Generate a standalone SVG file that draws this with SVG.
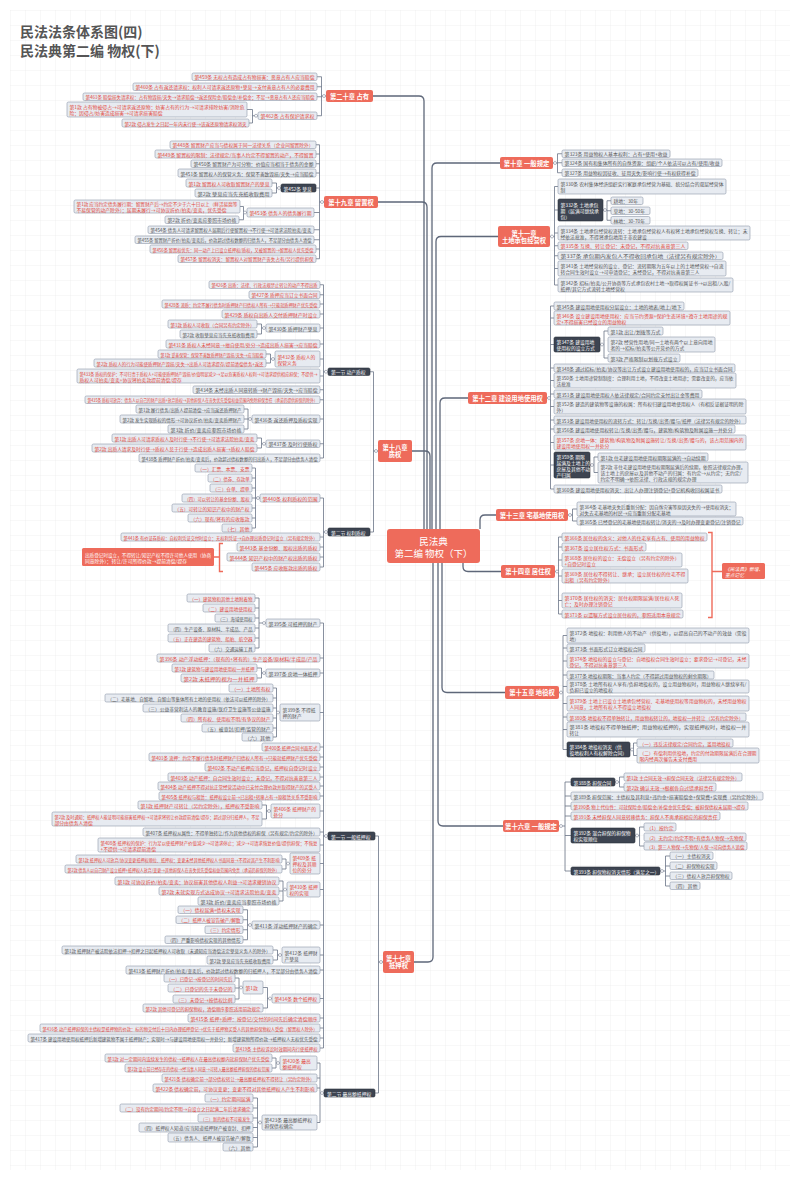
<svg xmlns="http://www.w3.org/2000/svg" width="800" height="1179" viewBox="0 0 800 1179">
<defs>
<pattern id="grid" width="15" height="15" patternUnits="userSpaceOnUse" x="10" y="10"><path d="M15 0H0V15" fill="none" stroke="#E6E6E6" stroke-width="0.6"/></pattern>
<style>
text{font-family:"Noto Sans CJK SC","Noto Sans",sans-serif;font-size:4.8px;dominant-baseline:central}
.g rect,.r rect{fill:#E7EBF1;stroke:#8D97AA;stroke-width:0.6}
.g text{fill:#555}
.r text{fill:#E2473B}
.d rect{fill:#3D4451;stroke:#2E343E;stroke-width:0.6}
.d text{fill:#fff}
.c rect{fill:#EE6B5B}
.c text{fill:#fff;font-size:6.3px;font-weight:bold;text-anchor:middle}
.root text{font-size:9.5px;font-weight:normal}
.nt rect{fill:#EE6B5B}
.nt text{fill:#fff;font-style:italic}
.tt{font-size:14px;fill:#555;dominant-baseline:alphabetic;font-weight:bold}
.k{fill:none;stroke:#6A7386;stroke-width:0.8}
.m{fill:none;stroke:#5E6779;stroke-width:1.3}
.h{fill:#fff;stroke:#6A7386;stroke-width:0.5}
.br{fill:none;stroke:#EE6B5B;stroke-width:1.4}
</style>
</defs>
<rect width="800" height="1179" fill="#fff"/>
<rect x="10" y="10" width="780" height="1160" fill="url(#grid)"/>
<g id="title"><text class="tt" x="20" y="37">民法法条体系图(四)</text><text class="tt" x="20" y="56">民法典第二编 物权(下)</text></g>

<g id="connectors">
<path class="m" d="M432,529V168Q432,163 437,163H500"/>
<path class="m" d="M436,529V241.5Q436,236.5 441,236.5H498"/>
<path class="m" d="M440,529V403Q440,398 445,398H468"/>
<path class="m" d="M480,529V520Q480,515 485,515H496"/>
<path class="m" d="M463,563V566.5Q463,571.5 468,571.5H501"/>
<path class="m" d="M442,563V687.5Q442,692.5 447,692.5H505"/>
<path class="m" d="M438,563V821Q438,826 443,826H503"/>
<path class="m" d="M433,563V957Q433,962 428,962H414"/>
<path class="m" d="M424,529V101Q424,96 419,96H373"/>
<path class="m" d="M427,529V207Q427,202 422,202H378"/>
<path class="m" d="M430,529V456Q430,451 425,451H412"/>
<path class="k" d="M553,163H557.5M557.5,153.75V172.75M557.5,153.75H562M557.5,162.75H562M557.5,172.75H562"/>
<path class="k" d="M550,236.5H554.5M554.5,186.5V285M554.5,186.5H558M554.5,210H558M554.5,233H558M554.5,245.75H558M554.5,255.75H558M554.5,268.5H558M554.5,285H558"/>
<path class="k" d="M603,210H607M607,200.75V220.25M607,200.75H611M607,210.75H611M607,220.25H611"/>
<path class="k" d="M547,398H550.5M550.5,306V489M550.5,306H554M550.5,318H554M550.5,344.5H554M550.5,368H554M550.5,380.5H554M550.5,394H554M550.5,406.5H554M550.5,420H554M550.5,429H554M550.5,442.5H554M550.5,465H554M550.5,489H554"/>
<path class="k" d="M600,344.5H604M604,331V358M604,331H608M604,358H608"/>
<path class="k" d="M590,465H594M594,457V472.5M594,457H598M594,472.5H598"/>
<path class="k" d="M568,515H572.5M572.5,509V521M572.5,509H577M572.5,521H577"/>
<path class="k" d="M555,571.5H558.5M558.5,537V614M558.5,537H562M558.5,547H562M558.5,560H562M558.5,576H562M558.5,600.5H562M558.5,614H562"/>
<path class="k" d="M559,692.5H563M563,635.5V749.5M563,635.5H567M563,648H567M563,661H567M563,675H567M563,686.5H567M563,703.5H567M563,717H567M563,729.5H567M563,749.5H567"/>
<path class="k" d="M630,749.5H633.5M633.5,743V755.5M633.5,743H637M633.5,755.5H637"/>
<path class="k" d="M559,826H565M565,782V871M565,782H571M565,796H571M565,806H571M565,816H571M565,835.5H571M565,871H571"/>
<path class="k" d="M615,782H619.5M619.5,777V787M619.5,777H624M619.5,787H624"/>
<path class="k" d="M635,835.5H639.5M639.5,827V846M639.5,827H644M639.5,846H644"/>
<path class="k" d="M660,871H665.5M665.5,856V886M665.5,856H670M665.5,866H670M665.5,876H670M665.5,886H670"/>
<path class="br" d="M708,532.5H712V617.5H708M712,571.5H722"/>
<path class="k" d="M326,96H321.5M321.5,76.75V115.75M321.5,76.75H317M321.5,86.75H317M321.5,96.75H317M321.5,115.75H317"/>
<path class="k" d="M258,115.75H252.5M252.5,109.5V123M252.5,109.5H247M252.5,123H249"/>
<path class="k" d="M324,202H319.5M319.5,144.75V258.75M319.5,144.75H316M319.5,154H316M319.5,163.75H316M319.5,173H316M319.5,188H316M319.5,212.5H314M319.5,229.75H314M319.5,239.75H314M319.5,249H316M319.5,258.75H316"/>
<path class="k" d="M281,188H276.5M276.5,183V193M276.5,183H272M276.5,193H272"/>
<path class="k" d="M247,212.5H243.5M243.5,206.5V219.75M243.5,206.5H240M243.5,219.75H239"/>
<path class="k" d="M378,451H373.5M373.5,371.75V532M373.5,371.75H370M373.5,532H370"/>
<path class="k" d="M328,371.75H323.5M323.5,284.75V458M323.5,284.75H320M323.5,294.75H320M323.5,304H320M323.5,314H320M323.5,328H320M323.5,344H320M323.5,359H320M323.5,376H320M323.5,389.75H320M323.5,399.75H320M323.5,419H320M323.5,443.75H320M323.5,458H320"/>
<path class="k" d="M266,328H261.5M261.5,324V334M261.5,324H257M261.5,334H257"/>
<path class="k" d="M275,359H270.5M270.5,354V363M270.5,354H266M270.5,363H266"/>
<path class="k" d="M252,419H248M248,409V429M248,409H244M248,419H244M248,429H244"/>
<path class="k" d="M266,443.75H261.5M261.5,438V448M261.5,438H257M261.5,448H257"/>
<path class="k" d="M328,532H323.5M323.5,498V567M323.5,498H320M323.5,537H320M323.5,547H320M323.5,557H320M323.5,567H320"/>
<path class="k" d="M260,498H255.5M255.5,468V528M255.5,468H252M255.5,478H252M255.5,488H252M255.5,498H252M255.5,508H252M255.5,518H252M255.5,528H252"/>
<path class="br" d="M223,543.5H219.5V571.5H223M219.5,557H214"/>
<path class="k" d="M383,962H378.5M378.5,836V1093M378.5,836H375M378.5,1093H375"/>
<path class="k" d="M328,836H323.5M323.5,623V1048M323.5,623H320M323.5,658H320M323.5,673H320M323.5,712.5H320M323.5,747H320M323.5,757H320M323.5,767H320M323.5,777H320M323.5,786H320M323.5,796H320M323.5,811H320M323.5,832H320M323.5,845H320M323.5,863.5H320M323.5,889.5H320M323.5,925H320M323.5,955H320M323.5,970H320M323.5,998.5H320M323.5,1018H320M323.5,1028H320M323.5,1038H320M323.5,1048H320"/>
<path class="k" d="M266,623H259M259,598V648M259,598H255M259,608H255M259,618H255M259,628H255M259,638H255M259,648H255"/>
<path class="k" d="M266,673H261.5M261.5,668V678M261.5,668H257M261.5,678H257"/>
<path class="k" d="M280,712.5H276.5M276.5,688V737M276.5,688H273M276.5,698H273M276.5,708H273M276.5,718H273M276.5,728H273M276.5,737H273"/>
<path class="k" d="M271,811H266.5M266.5,805V819M266.5,805H262M266.5,819H262"/>
<path class="k" d="M290,863.5H286M286,859V869M286,859H282M286,869H282"/>
<path class="k" d="M287,889.5H283M283,881V901M283,881H279M283,891H279M283,901H279"/>
<path class="k" d="M252,925H247.5M247.5,909.75V939.75M247.5,909.75H243M247.5,919.75H243M247.5,929.75H243M247.5,939.75H243"/>
<path class="k" d="M282,955H277.5M277.5,950V960M277.5,950H273M277.5,960H273"/>
<path class="k" d="M272,998.5H267.5M267.5,987.5V1008M267.5,987.5H263M267.5,1008H263"/>
<path class="k" d="M243,987.5H239M239,978V999M239,978H235M239,988H235M239,999H235"/>
<path class="k" d="M324,1093H320M320,1063V1122.5M320,1063H317M320,1078H317M320,1088H317M320,1122.5H317"/>
<path class="k" d="M280,1063H276M276,1058V1068M276,1058H272M276,1068H272"/>
<path class="k" d="M262,1122.5H257.5M257.5,1098V1147M257.5,1098H253M257.5,1108H253M257.5,1118H253M257.5,1127.5H253M257.5,1137.5H253M257.5,1147H253"/>
<circle class="h" cx="555" cy="163" r="1.5"/><circle class="h" cx="552" cy="236.5" r="1.5"/><circle class="h" cx="605" cy="210" r="1.5"/><circle class="h" cx="549" cy="398" r="1.5"/><circle class="h" cx="602" cy="344.5" r="1.5"/><circle class="h" cx="592" cy="465" r="1.5"/><circle class="h" cx="570" cy="515" r="1.5"/><circle class="h" cx="557" cy="571.5" r="1.5"/><circle class="h" cx="561" cy="692.5" r="1.5"/><circle class="h" cx="632" cy="749.5" r="1.5"/><circle class="h" cx="561" cy="826" r="1.5"/><circle class="h" cx="617" cy="782" r="1.5"/><circle class="h" cx="637" cy="835.5" r="1.5"/><circle class="h" cx="662" cy="871" r="1.5"/>
<circle class="h" cx="324" cy="96" r="1.5"/><circle class="h" cx="256" cy="115.75" r="1.5"/><circle class="h" cx="322" cy="202" r="1.5"/><circle class="h" cx="279" cy="188" r="1.5"/><circle class="h" cx="245" cy="212.5" r="1.5"/><circle class="h" cx="376" cy="451" r="1.5"/><circle class="h" cx="326" cy="371.75" r="1.5"/><circle class="h" cx="264" cy="328" r="1.5"/><circle class="h" cx="273" cy="359" r="1.5"/><circle class="h" cx="250" cy="419" r="1.5"/><circle class="h" cx="264" cy="443.75" r="1.5"/><circle class="h" cx="326" cy="532" r="1.5"/><circle class="h" cx="258" cy="498" r="1.5"/><circle class="h" cx="381" cy="962" r="1.5"/><circle class="h" cx="326" cy="836" r="1.5"/><circle class="h" cx="264" cy="623" r="1.5"/><circle class="h" cx="264" cy="673" r="1.5"/><circle class="h" cx="278" cy="712.5" r="1.5"/><circle class="h" cx="269" cy="811" r="1.5"/><circle class="h" cx="288" cy="863.5" r="1.5"/><circle class="h" cx="285" cy="889.5" r="1.5"/><circle class="h" cx="250" cy="925" r="1.5"/><circle class="h" cx="280" cy="955" r="1.5"/><circle class="h" cx="270" cy="998.5" r="1.5"/><circle class="h" cx="241" cy="987.5" r="1.5"/><circle class="h" cx="322" cy="1093" r="1.5"/><circle class="h" cx="278" cy="1063" r="1.5"/><circle class="h" cx="260" cy="1122.5" r="1.5"/>
</g>

<g id="root" class="c root"><rect x="387" y="529" width="93" height="34" rx="3"/><text x="433.5" y="540.5">民法典</text><text x="433.5" y="553">第二编 物权（下）</text></g>

<g id="ch10" class="c"><rect x="500" y="157" width="53" height="12" rx="2"/><text x="526.5" y="163">第十章 一般规定</text></g>
<g id="ch11" class="c"><rect x="498" y="226" width="52" height="21" rx="2"/><text x="524" y="233">第十一章</text><text x="524" y="240">土地承包经营权</text></g>
<g id="ch12" class="c"><rect x="468" y="392" width="79" height="12" rx="2"/><text x="507.5" y="398">第十二章 建设用地使用权</text></g>
<g id="ch13" class="c"><rect x="496" y="509" width="72" height="12" rx="2"/><text x="532" y="515">第十三章 宅基地使用权</text></g>
<g id="ch14" class="c"><rect x="501" y="565" width="54" height="13" rx="2"/><text x="528" y="571.5">第十四章 居住权</text></g>
<g id="ch15" class="c"><rect x="505" y="686" width="54" height="13" rx="2"/><text x="532" y="692.5">第十五章 地役权</text></g>
<g id="ch16" class="c"><rect x="503" y="820" width="56" height="12" rx="2"/><text x="531" y="826">第十六章 一般规定</text></g>
<g id="ch20" class="c"><rect x="326" y="90" width="47" height="12" rx="2"/><text x="349.5" y="96">第二十章 占有</text></g>
<g id="ch19" class="c"><rect x="324" y="196" width="54" height="12" rx="2"/><text x="351" y="202">第十九章 留置权</text></g>
<g id="ch18" class="c"><rect x="378" y="440" width="34" height="22" rx="2"/><text x="395" y="447.5">第十八章</text><text x="395" y="454.5">质权</text></g>
<g id="ch17" class="c"><rect x="383" y="951" width="31" height="22" rx="2"/><text x="398.5" y="958.5">第十七章</text><text x="398.5" y="965.5">抵押权</text></g>

<g id="n323" class="g"><rect x="562" y="150" width="108" height="7.5" rx="1.5"/><text x="564.5" y="153.75" textLength="103" lengthAdjust="spacingAndGlyphs">第323条 用益物权人基本权利：占有+使用+收益</text></g>
<g id="n324" class="g"><rect x="562" y="159" width="160" height="7.5" rx="1.5"/><text x="564.5" y="162.75" textLength="155" lengthAdjust="spacingAndGlyphs">第324条 国有和集体所有的自然资源：组织/个人依法可以占有/使用/收益</text></g>
<g id="n327" class="g"><rect x="562" y="169" width="136" height="7.5" rx="1.5"/><text x="564.5" y="172.75" textLength="131" lengthAdjust="spacingAndGlyphs">第327条 用益物权因征收、征用灭失/影响行使→有权获得补偿</text></g>
<g id="n330" class="g"><rect x="558" y="179" width="168" height="15" rx="1.5"/><text x="560.5" y="183.5" textLength="163" lengthAdjust="spacingAndGlyphs">第330条 农村集体经济组织实行家庭承包经营为基础、统分结合的双层经营体</text><text x="560.5" y="189.5">制</text></g>
<g id="n332" class="d"><rect x="558" y="199" width="45" height="22" rx="1.5"/><text x="560.5" y="204">第332条 土地承包</text><text x="560.5" y="210">期（届满可继续承</text><text x="560.5" y="216">包）</text></g>
<g id="n332a" class="g"><rect x="611" y="197" width="32" height="7.5" rx="1.5"/><text x="613.5" y="200.75">耕地：30年</text></g>
<g id="n332b" class="g"><rect x="611" y="207" width="39" height="7.5" rx="1.5"/><text x="613.5" y="210.75">草地：30-50年</text></g>
<g id="n332c" class="g"><rect x="611" y="216.5" width="39" height="7.5" rx="1.5"/><text x="613.5" y="220.25">林地：30-70年</text></g>
<g id="n334" class="g"><rect x="558" y="226" width="192" height="14" rx="1.5"/><text x="560.5" y="230" textLength="187" lengthAdjust="spacingAndGlyphs">第334条 土地承包经营权流转：土地承包经营权人有权将土地承包经营权互换、转让；未</text><text x="560.5" y="236">经依法批准，不得将承包地用于非农建设</text></g>
<g id="n335" class="r"><rect x="558" y="242" width="130" height="7.5" rx="1.5"/><text x="560.5" y="245.75" textLength="125" lengthAdjust="spacingAndGlyphs">第335条 互换、转让登记：未登记，不得对抗善意第三人</text></g>
<g id="n337" class="g"><rect x="558" y="252" width="165" height="7.5" rx="1.5"/><text x="560.5" y="255.75" textLength="160" lengthAdjust="spacingAndGlyphs">第337条 承包期内发包人不得收回承包地（法律另有规定除外）</text></g>
<g id="n341" class="g"><rect x="558" y="261" width="168" height="15" rx="1.5"/><text x="560.5" y="265.5" textLength="163" lengthAdjust="spacingAndGlyphs">第341条 土地经营权的设立、登记：流转期限为五年以上的土地经营权→自流</text><text x="560.5" y="271.5">转合同生效时设立→可申请登记；未经登记，不得对抗善意第三人</text></g>
<g id="n342" class="g"><rect x="558" y="278" width="175" height="14" rx="1.5"/><text x="560.5" y="282" textLength="170" lengthAdjust="spacingAndGlyphs">第342条 招标/拍卖/公开协商等方式承包农村土地→取得权属证书→以出租/入股/</text><text x="560.5" y="288">抵押/其它方式流转土地经营权</text></g>

<g id="n345" class="g"><rect x="554" y="302" width="130" height="8" rx="1.5"/><text x="556.5" y="306" textLength="125" lengthAdjust="spacingAndGlyphs">第345条 建设用地使用权分层设立：土地的地表/地上/地下</text></g>
<g id="n346" class="r"><rect x="554" y="311" width="176" height="14" rx="1.5"/><text x="556.5" y="315" textLength="171" lengthAdjust="spacingAndGlyphs">第346条 设立建设用地使用权：应当节约资源+保护生态环境+遵守土地用途的规</text><text x="556.5" y="321">定+不得损害已经设立的用益物权</text></g>
<g id="n347" class="d"><rect x="554" y="337" width="46" height="15" rx="1.5"/><text x="556.5" y="341.5">第347条 建设用地</text><text x="556.5" y="347.5">使用权的设立方式</text></g>
<g id="n347a" class="g"><rect x="608" y="327" width="55" height="8" rx="1.5"/><text x="610.5" y="331" textLength="50" lengthAdjust="spacingAndGlyphs">第1款 出让/划拨等方式</text></g>
<g id="n347b" class="g"><rect x="608" y="337" width="107" height="15" rx="1.5"/><text x="610.5" y="341.5" textLength="102" lengthAdjust="spacingAndGlyphs">第2款 经营性用地/同一土地有两个以上意向用地</text><text x="610.5" y="347.5">者的→招标/拍卖等公开竞价的方式</text></g>
<g id="n347c" class="g"><rect x="608" y="354" width="72" height="8" rx="1.5"/><text x="610.5" y="358" textLength="67" lengthAdjust="spacingAndGlyphs">第3款 严格限制以划拨方式设立</text></g>
<g id="n348" class="g"><rect x="554" y="364" width="181" height="8" rx="1.5"/><text x="556.5" y="368" textLength="176" lengthAdjust="spacingAndGlyphs">第348条 通过招标/拍卖/协议等出让方式设立建设用地使用权的，应当订立书面合同</text></g>
<g id="n350" class="g"><rect x="554" y="373" width="182" height="15" rx="1.5"/><text x="556.5" y="377.5" textLength="177" lengthAdjust="spacingAndGlyphs">第350条 土地用途管制制度：合理利用土地，不得改变土地用途；需要改变的，应当依</text><text x="556.5" y="383.5">法批准</text></g>
<g id="n351" class="g"><rect x="554" y="390" width="148" height="8" rx="1.5"/><text x="556.5" y="394" textLength="143" lengthAdjust="spacingAndGlyphs">第351条 建设用地使用权人依法律规定/合同约定支付出让金等费用</text></g>
<g id="n352" class="g"><rect x="554" y="399" width="192" height="15" rx="1.5"/><text x="556.5" y="403.5" textLength="187" lengthAdjust="spacingAndGlyphs">第352条 建造的建筑物等设施的权属：所有权归建设用地使用权人（有相反证据证明的除</text><text x="556.5" y="409.5">外）</text></g>
<g id="n353" class="g"><rect x="554" y="416" width="192" height="8" rx="1.5"/><text x="556.5" y="420" textLength="187" lengthAdjust="spacingAndGlyphs">第353条 建设用地使用权的流转方式：转让/互换/出资/赠与/抵押（法律另有规定的除外）</text></g>
<g id="n356" class="g"><rect x="554" y="425" width="181" height="8" rx="1.5"/><text x="556.5" y="429" textLength="176" lengthAdjust="spacingAndGlyphs">第356条 建设用地使用权转让/互换/出资/赠与，建筑物/构筑物及附属设施一并处分</text></g>
<g id="n357" class="r"><rect x="554" y="435" width="192" height="15" rx="1.5"/><text x="556.5" y="439.5" textLength="187" lengthAdjust="spacingAndGlyphs">第357条 房地一体：建筑物/构筑物及附属设施转让/互换/出资/赠与的，该占用范围内的</text><text x="556.5" y="445.5">建设用地使用权一并处分</text></g>
<g id="n359" class="d"><rect x="554" y="452" width="36" height="26" rx="1.5"/><text x="556.5" y="456">第359条 期限</text><text x="556.5" y="462">届满及土地上的</text><text x="556.5" y="468">房屋及其他不动</text><text x="556.5" y="474">产归属</text></g>
<g id="n359a" class="g"><rect x="598" y="453" width="110" height="8" rx="1.5"/><text x="600.5" y="457" textLength="105" lengthAdjust="spacingAndGlyphs">第1款 住宅建设用地使用权期限届满的→自动续期</text></g>
<g id="n359b" class="g"><rect x="598" y="462" width="150" height="21" rx="1.5"/><text x="600.5" y="466.5" textLength="145" lengthAdjust="spacingAndGlyphs">第2款 非住宅建设用地使用权期限届满后的续期，依照法律规定办理。</text><text x="600.5" y="472.5">该土地上的房屋以及其他不动产的归属：有约定→从约定；无约定/</text><text x="600.5" y="478.5">约定不明确→依照法律、行政法规的规定办理</text></g>
<g id="n360" class="g"><rect x="554" y="485" width="168" height="8" rx="1.5"/><text x="556.5" y="489" textLength="163" lengthAdjust="spacingAndGlyphs">第360条 建设用地使用权消灭：出让人办理注销登记+登记机构收回权属证书</text></g>

<g id="n364" class="g"><rect x="577" y="502" width="159" height="14" rx="1.5"/><text x="579.5" y="506" textLength="154" lengthAdjust="spacingAndGlyphs">第364条 宅基地灭失后重新分配：因自然灾害等原因灭失的→使用权消灭；</text><text x="579.5" y="512">对失去宅基地的村民→应当重新分配宅基地</text></g>
<g id="n365" class="g"><rect x="577" y="517" width="166" height="8" rx="1.5"/><text x="579.5" y="521" textLength="161" lengthAdjust="spacingAndGlyphs">第365条 已经登记的宅基地使用权转让/消灭的→及时办理变更登记/注销登记</text></g>

<g id="n366" class="r"><rect x="562" y="533" width="145" height="8" rx="1.5"/><text x="564.5" y="537" textLength="140" lengthAdjust="spacingAndGlyphs">第366条 居住权的含义：对他人的住宅享有占有、使用的用益物权</text></g>
<g id="n367" class="r"><rect x="562" y="543" width="84" height="8" rx="1.5"/><text x="564.5" y="547" textLength="79" lengthAdjust="spacingAndGlyphs">第367条 设立居住权方式：书面形式</text></g>
<g id="n368" class="r"><rect x="562" y="553" width="120" height="14" rx="1.5"/><text x="564.5" y="557" textLength="115" lengthAdjust="spacingAndGlyphs">第368条 居住权的设立：无偿设立（另有约定的除外）</text><text x="564.5" y="563">+自登记时设立</text></g>
<g id="n369" class="r"><rect x="562" y="569" width="126" height="14" rx="1.5"/><text x="564.5" y="573" textLength="121" lengthAdjust="spacingAndGlyphs">第369条 居住权不得转让、继承；设立居住权的住宅不得</text><text x="564.5" y="579">出租（另有约定除外）</text></g>
<g id="n370" class="r"><rect x="562" y="593" width="120" height="15" rx="1.5"/><text x="564.5" y="597.5" textLength="115" lengthAdjust="spacingAndGlyphs">第370条 居住权的消灭：居住权期限届满/居住权人死</text><text x="564.5" y="603.5">亡；及时办理注销登记</text></g>
<g id="n371" class="r"><rect x="562" y="610" width="121" height="8" rx="1.5"/><text x="564.5" y="614" textLength="116" lengthAdjust="spacingAndGlyphs">第371条 以遗嘱方式设立居住权的，参照适用本章规定</text></g>
<g id="note14" class="nt"><rect x="722" y="563" width="43" height="16" rx="1.5"/><text x="725" y="568">《民法典》新增、</text><text x="725" y="574">重点记忆</text></g>

<g id="n372" class="g"><rect x="567" y="628" width="182" height="15" rx="1.5"/><text x="569.5" y="632.5" textLength="177" lengthAdjust="spacingAndGlyphs">第372条 地役权：利用他人的不动产（供役地），以提高自己的不动产的效益（需役</text><text x="569.5" y="638.5">地）</text></g>
<g id="n373" class="g"><rect x="567" y="644" width="78" height="8" rx="1.5"/><text x="569.5" y="648" textLength="73" lengthAdjust="spacingAndGlyphs">第373条 书面形式订立地役权合同</text></g>
<g id="n374" class="r"><rect x="567" y="654" width="182" height="14" rx="1.5"/><text x="569.5" y="658" textLength="177" lengthAdjust="spacingAndGlyphs">第374条 地役权的设立与登记：自地役权合同生效时设立；要求登记→可登记，未经</text><text x="569.5" y="664">登记，不得对抗善意第三人</text></g>
<g id="n377" class="g"><rect x="567" y="671" width="147" height="8" rx="1.5"/><text x="569.5" y="675" textLength="142" lengthAdjust="spacingAndGlyphs">第377条 地役权期限：当事人约定（不得超过用益物权的剩余期限）</text></g>
<g id="n378" class="g"><rect x="567" y="680" width="182" height="13" rx="1.5"/><text x="569.5" y="683.5" textLength="177" lengthAdjust="spacingAndGlyphs">第378条 土地所有权人享有/负担地役权的，设立用益物权时，用益物权人继续享有/</text><text x="569.5" y="689.5">负担已设立的地役权</text></g>
<g id="n379" class="r"><rect x="567" y="696" width="182" height="15" rx="1.5"/><text x="569.5" y="700.5" textLength="177" lengthAdjust="spacingAndGlyphs">第379条 土地上已设立土地承包经营权、宅基地使用权等用益物权的，未经用益物权</text><text x="569.5" y="706.5">人同意，土地所有权人不得设立地役权</text></g>
<g id="n380" class="r"><rect x="567" y="713" width="179" height="8" rx="1.5"/><text x="569.5" y="717" textLength="174" lengthAdjust="spacingAndGlyphs">第380条 地役权不得单独转让，用益物权转让的，地役权一并转让（另有约定除外）</text></g>
<g id="n381" class="g"><rect x="567" y="722" width="182" height="15" rx="1.5"/><text x="569.5" y="726.5" textLength="177" lengthAdjust="spacingAndGlyphs">第381条 地役权不得单独抵押；用益物权抵押的，实现抵押权时，地役权一并</text><text x="569.5" y="732.5">转让</text></g>
<g id="n384" class="d"><rect x="567" y="742" width="63" height="15" rx="1.5"/><text x="569.5" y="746.5">第384条 地役权消灭（供</text><text x="569.5" y="752.5">役地权利人有权解除合同）</text></g>
<g id="n384a" class="r"><rect x="637" y="739" width="96" height="8" rx="1.5"/><text x="639.5" y="743" textLength="91" lengthAdjust="spacingAndGlyphs">（一）违反法律规定/合同约定，滥用地役权</text></g>
<g id="n384b" class="r"><rect x="637" y="748" width="122" height="15" rx="1.5"/><text x="639.5" y="752.5" textLength="117" lengthAdjust="spacingAndGlyphs">（二）有偿利用供役地，约定的付款期限届满后在合理期</text><text x="639.5" y="758.5">限内经两次催告未支付费用</text></g>

<g id="n388" class="d"><rect x="571" y="778" width="44" height="8" rx="1.5"/><text x="573.5" y="782">第388条 担保合同</text></g>
<g id="n388a" class="r"><rect x="624" y="773" width="118" height="8" rx="1.5"/><text x="626.5" y="777" textLength="113" lengthAdjust="spacingAndGlyphs">第1款 主合同无效→担保合同无效（法律另有规定除外）</text></g>
<g id="n388b" class="r"><rect x="624" y="783" width="92" height="8" rx="1.5"/><text x="626.5" y="787" textLength="87" lengthAdjust="spacingAndGlyphs">第2款 确认无效→根据各自过错承担责任</text></g>
<g id="n389" class="g"><rect x="571" y="792" width="192" height="8" rx="1.5"/><text x="573.5" y="796" textLength="187" lengthAdjust="spacingAndGlyphs">第389条 担保范围：主债权及其利息+违约金+损害赔偿金+保管费+实现费（另约定除外）</text></g>
<g id="n390" class="r"><rect x="571" y="802" width="177" height="8" rx="1.5"/><text x="573.5" y="806" textLength="172" lengthAdjust="spacingAndGlyphs">第390条 物上代位性：可就保险金/赔偿金/补偿金优先受偿；被担保债权未届期→提存</text></g>
<g id="n391" class="r"><rect x="571" y="812" width="149" height="8" rx="1.5"/><text x="573.5" y="816" textLength="144" lengthAdjust="spacingAndGlyphs">第391条 未经担保人同意转移债务：担保人不再承担相应的担保责任</text></g>
<g id="n392" class="d"><rect x="571" y="828" width="64" height="15" rx="1.5"/><text x="573.5" y="832.5">第392条 混合担保的担保物</text><text x="573.5" y="838.5">权实现顺位</text></g>
<g id="n392a" class="r"><rect x="644" y="823" width="32" height="8" rx="1.5"/><text x="646.5" y="827" textLength="27" lengthAdjust="spacingAndGlyphs">（1）按约定</text></g>
<g id="n392b" class="r"><rect x="644" y="833" width="102" height="8" rx="1.5"/><text x="646.5" y="837" textLength="97" lengthAdjust="spacingAndGlyphs">（2）无约定/约定不明+有债务人物保→先物保</text></g>
<g id="n392c" class="r"><rect x="644" y="842" width="103" height="8" rx="1.5"/><text x="646.5" y="846" textLength="98" lengthAdjust="spacingAndGlyphs">（3）第三人物保→先物保/人保→可向债务人追偿</text></g>
<g id="n393" class="d"><rect x="571" y="867" width="89" height="8" rx="1.5"/><text x="573.5" y="871">第393条 担保物权消灭情形（满足之一）</text></g>
<g id="n393a" class="g"><rect x="670" y="852" width="43" height="7.5" rx="1.5"/><text x="672.5" y="855.75" textLength="38" lengthAdjust="spacingAndGlyphs">（一）主债权消灭</text></g>
<g id="n393b" class="g"><rect x="670" y="862" width="47" height="7.5" rx="1.5"/><text x="672.5" y="865.75" textLength="42" lengthAdjust="spacingAndGlyphs">（二）担保物权实现</text></g>
<g id="n393c" class="g"><rect x="670" y="872" width="62" height="7.5" rx="1.5"/><text x="672.5" y="875.75" textLength="57" lengthAdjust="spacingAndGlyphs">（三）债权人放弃担保物权</text></g>
<g id="n393d" class="g"><rect x="670" y="882" width="30" height="7.5" rx="1.5"/><text x="672.5" y="885.75" textLength="25" lengthAdjust="spacingAndGlyphs">（四）其他</text></g>

<g id="n459" class="r"><rect x="192" y="73" width="125" height="7.5" rx="1.5"/><text x="194.5" y="76.75" textLength="120" lengthAdjust="spacingAndGlyphs">第459条 无权占有造成占有物损害：恶意占有人应当赔偿</text></g>
<g id="n460" class="r"><rect x="133" y="83" width="184" height="7.5" rx="1.5"/><text x="135.5" y="86.75" textLength="179" lengthAdjust="spacingAndGlyphs">第460条 占有返还请求权：权利人可请求返还原物+孳息→支付善意占有人的必要费用</text></g>
<g id="n461" class="r"><rect x="83" y="93" width="234" height="7.5" rx="1.5"/><text x="85.5" y="96.75" textLength="229" lengthAdjust="spacingAndGlyphs">第461条 赔偿损失请求权：占有物毁损/灭失→请求赔偿→返还保险金/赔偿金/补偿金；不足→恶意占有人还应当赔偿</text></g>
<g id="n462" class="r"><rect x="258" y="112" width="59" height="7.5" rx="1.5"/><text x="260.5" y="115.75" textLength="54" lengthAdjust="spacingAndGlyphs">第462条 占有保护请求权</text></g>
<g id="n462a" class="r"><rect x="67" y="102" width="180" height="15" rx="1.5"/><text x="69.5" y="106.5" textLength="175" lengthAdjust="spacingAndGlyphs">第1款 占有物被侵占→可请求返还原物；妨害占有的行为→可请求排除妨害/消除危</text><text x="69.5" y="112.5">险；因侵占/妨害造成损害→可请求损害赔偿</text></g>
<g id="n462b" class="r"><rect x="122" y="119" width="127" height="8" rx="1.5"/><text x="124.5" y="123" textLength="122" lengthAdjust="spacingAndGlyphs">第2款 侵占发生之日起一年内未行使→该返还原物请求权消灭</text></g>

<g id="n448" class="r"><rect x="170" y="141" width="146" height="7.5" rx="1.5"/><text x="172.5" y="144.75" textLength="141" lengthAdjust="spacingAndGlyphs">第448条 留置财产应当与债权属于同一法律关系（企业间留置除外）</text></g>
<g id="n449" class="r"><rect x="155" y="150" width="161" height="8" rx="1.5"/><text x="157.5" y="154" textLength="156" lengthAdjust="spacingAndGlyphs">第449条 留置权的限制：法律规定/当事人约定不得留置的动产，不得留置</text></g>
<g id="n450" class="g"><rect x="191" y="160" width="125" height="7.5" rx="1.5"/><text x="193.5" y="163.75" textLength="120" lengthAdjust="spacingAndGlyphs">第450条 留置财产为可分物：价值应当相当于债务的金额</text></g>
<g id="n451" class="g"><rect x="178" y="169" width="138" height="8" rx="1.5"/><text x="180.5" y="173" textLength="133" lengthAdjust="spacingAndGlyphs">第451条 留置权人的保管义务：保管不善致毁损/灭失→应当赔偿</text></g>
<g id="n452" class="d"><rect x="281" y="184" width="35" height="8" rx="1.5"/><text x="283.5" y="188">第452条 孳息</text></g>
<g id="n452a" class="r"><rect x="186" y="179" width="86" height="8" rx="1.5"/><text x="188.5" y="183" textLength="81" lengthAdjust="spacingAndGlyphs">第1款 留置权人可收取留置财产的孳息</text></g>
<g id="n452b" class="g"><rect x="195" y="189" width="77" height="8" rx="1.5"/><text x="197.5" y="193" textLength="72" lengthAdjust="spacingAndGlyphs">第2款 孳息应当先充抵收取费用</text></g>
<g id="n453" class="r"><rect x="247" y="208" width="67" height="9" rx="1.5"/><text x="249.5" y="212.5" textLength="62" lengthAdjust="spacingAndGlyphs">第453条 债务人的债务履行期</text></g>
<g id="n453a" class="r"><rect x="74" y="200" width="166" height="13" rx="1.5"/><text x="76.5" y="203.5" textLength="161" lengthAdjust="spacingAndGlyphs">第1款 应当约定债务履行期：留置财产后→约定不少于六十日以上（鲜活易腐等</text><text x="76.5" y="209.5">不易保管的动产除外）；届期未履行→可协议折价/拍卖/变卖，优先受偿</text></g>
<g id="n453b" class="g"><rect x="165" y="216" width="74" height="7.5" rx="1.5"/><text x="167.5" y="219.75" textLength="69" lengthAdjust="spacingAndGlyphs">第2款 折价/变卖应参照市场价格</text></g>
<g id="n454" class="g"><rect x="148" y="226" width="166" height="7.5" rx="1.5"/><text x="150.5" y="229.75" textLength="161" lengthAdjust="spacingAndGlyphs">第454条 债务人可请求留置权人届期后行使留置权→不行使→可请求法院拍卖/变卖</text></g>
<g id="n455" class="g"><rect x="135" y="236" width="179" height="7.5" rx="1.5"/><text x="137.5" y="239.75" textLength="174" lengthAdjust="spacingAndGlyphs">第455条 留置财产折价/拍卖/变卖后，价款超过债权数额的归债务人，不足部分由债务人清偿</text></g>
<g id="n456" class="r"><rect x="150" y="245" width="166" height="8" rx="1.5"/><text x="152.5" y="249" textLength="161" lengthAdjust="spacingAndGlyphs">第456条 留置权优先：同一动产上已设立抵押权/质权，又被留置的→留置权人优先受偿</text></g>
<g id="n457" class="r"><rect x="178" y="255" width="138" height="7.5" rx="1.5"/><text x="180.5" y="258.75" textLength="133" lengthAdjust="spacingAndGlyphs">第457条 留置权消灭：留置权人对留置财产丧失占有/另行提供担保</text></g>

<g id="s18a" class="d"><rect x="328" y="368" width="42" height="7.5" rx="1.5"/><text x="331" y="371.75">第一节 动产质权</text></g>
<g id="s18b" class="d"><rect x="328" y="528" width="42" height="8" rx="1.5"/><text x="331" y="532">第二节 权利质权</text></g>
<g id="n426" class="r"><rect x="209" y="281" width="111" height="7.5" rx="1.5"/><text x="211.5" y="284.75" textLength="106" lengthAdjust="spacingAndGlyphs">第426条 出质：法律、行政法规禁止转让的动产不得出质</text></g>
<g id="n427" class="r"><rect x="249" y="291" width="71" height="7.5" rx="1.5"/><text x="251.5" y="294.75" textLength="66" lengthAdjust="spacingAndGlyphs">第427条 质押应当订立书面合同</text></g>
<g id="n428" class="r"><rect x="162" y="300" width="158" height="8" rx="1.5"/><text x="164.5" y="304" textLength="153" lengthAdjust="spacingAndGlyphs">第428条 流质：约定不履行债务时质押财产归债权人所有→只能就质押财产优先受偿</text></g>
<g id="n429" class="r"><rect x="222" y="310" width="98" height="8" rx="1.5"/><text x="224.5" y="314" textLength="93" lengthAdjust="spacingAndGlyphs">第429条 质权自出质人交付质押财产时设立</text></g>
<g id="n430" class="g"><rect x="266" y="324" width="54" height="8" rx="1.5"/><text x="268.5" y="328" textLength="49" lengthAdjust="spacingAndGlyphs">第430条 质押财产孳息</text></g>
<g id="n430a" class="r"><rect x="168" y="320" width="89" height="8" rx="1.5"/><text x="170.5" y="324" textLength="84" lengthAdjust="spacingAndGlyphs">第1款 质权人可收取（合同另有约定除外）</text></g>
<g id="n430b" class="g"><rect x="180" y="330" width="77" height="8" rx="1.5"/><text x="182.5" y="334" textLength="72" lengthAdjust="spacingAndGlyphs">第2款 收取孳息应当先充抵收取费用</text></g>
<g id="n431" class="r"><rect x="166" y="340" width="154" height="8" rx="1.5"/><text x="168.5" y="344" textLength="149" lengthAdjust="spacingAndGlyphs">第431条 质权人未经同意→擅自使用/处分→造成出质人损害→应当赔偿</text></g>
<g id="n432" class="r"><rect x="275" y="351" width="45" height="16" rx="1.5"/><text x="277.5" y="356">第432条 质权人的</text><text x="277.5" y="362">保管义务</text></g>
<g id="n432a" class="r"><rect x="158" y="350" width="108" height="8" rx="1.5"/><text x="160.5" y="354" textLength="103" lengthAdjust="spacingAndGlyphs">第1款 妥善保管：保管不善致质押财产毁损/灭失→应当赔偿</text></g>
<g id="n432b" class="r"><rect x="94" y="359" width="172" height="8" rx="1.5"/><text x="96.5" y="363" textLength="167" lengthAdjust="spacingAndGlyphs">第2款 质权人的行为可能使质押财产毁损/灭失→出质人可请求提存/提前清偿债务+返还</text></g>
<g id="n433" class="r"><rect x="77" y="369" width="243" height="14" rx="1.5"/><text x="79.5" y="373" textLength="238" lengthAdjust="spacingAndGlyphs">第433条 质权的保护：不可归责于质权人+可能使质押财产毁损/价值明显减少→足以危害质权人权利→可请求提供相应担保；不提供→</text><text x="79.5" y="379">质权人可拍卖/变卖+协议将拍卖款提前清偿/提存</text></g>
<g id="n434" class="g"><rect x="193" y="386" width="127" height="7.5" rx="1.5"/><text x="195.5" y="389.75" textLength="122" lengthAdjust="spacingAndGlyphs">第434条 未经出质人同意转质→财产毁损/灭失→应当赔偿</text></g>
<g id="n435" class="r"><rect x="85" y="396" width="235" height="7.5" rx="1.5"/><text x="87.5" y="399.75" textLength="230" lengthAdjust="spacingAndGlyphs">第435条 质权可放弃：债务人以自己的财产出质+放弃质权→其他担保人在丧失优先受偿权益范围内免除担保责任（承诺仍提供担保的除外）</text></g>
<g id="n436" class="g"><rect x="252" y="415" width="68" height="8" rx="1.5"/><text x="254.5" y="419" textLength="63" lengthAdjust="spacingAndGlyphs">第436条 返还质押及质权实现</text></g>
<g id="n436a" class="g"><rect x="136" y="405" width="108" height="8" rx="1.5"/><text x="138.5" y="409" textLength="103" lengthAdjust="spacingAndGlyphs">第1款 履行债务/出质人提前清偿→应当返还质押财产</text></g>
<g id="n436b" class="g"><rect x="120" y="415" width="124" height="8" rx="1.5"/><text x="122.5" y="419" textLength="119" lengthAdjust="spacingAndGlyphs">第2款 发生实现质权的情形→可协议折价/拍卖/变卖质押财产</text></g>
<g id="n436c" class="g"><rect x="168" y="425" width="76" height="8" rx="1.5"/><text x="170.5" y="429" textLength="71" lengthAdjust="spacingAndGlyphs">第3款 折价/变卖应参照市场价格</text></g>
<g id="n437" class="g"><rect x="266" y="440" width="54" height="7.5" rx="1.5"/><text x="268.5" y="443.75" textLength="49" lengthAdjust="spacingAndGlyphs">第437条 及时行使质权</text></g>
<g id="n437a" class="r"><rect x="112" y="434" width="145" height="8" rx="1.5"/><text x="114.5" y="438" textLength="140" lengthAdjust="spacingAndGlyphs">第1款 出质人可请求质权人及时行使→不行使→可请求法院拍卖/变卖</text></g>
<g id="n437b" class="r"><rect x="92" y="444" width="165" height="8" rx="1.5"/><text x="94.5" y="448" textLength="160" lengthAdjust="spacingAndGlyphs">第2款 出质人请求及时行使→质权人怠于行使→造成出质人损害→质权人赔偿</text></g>
<g id="n438" class="g"><rect x="139" y="454" width="181" height="8" rx="1.5"/><text x="141.5" y="458" textLength="176" lengthAdjust="spacingAndGlyphs">第438条 质押财产折价/拍卖/变卖后，价款超过债权数额的归出质人，不足部分由债务人清偿</text></g>

<g id="n440" class="r"><rect x="260" y="494" width="60" height="8" rx="1.5"/><text x="262.5" y="498" textLength="55" lengthAdjust="spacingAndGlyphs">第440条 权利质权的范围</text></g>
<g id="n440a" class="r"><rect x="195" y="464" width="57" height="8" rx="1.5"/><text x="197.5" y="468" textLength="52" lengthAdjust="spacingAndGlyphs">（一）汇票、本票、支票</text></g>
<g id="n440b" class="r"><rect x="208" y="474" width="44" height="8" rx="1.5"/><text x="210.5" y="478" textLength="39" lengthAdjust="spacingAndGlyphs">（二）债券、存款单</text></g>
<g id="n440c" class="r"><rect x="210" y="484" width="42" height="8" rx="1.5"/><text x="212.5" y="488" textLength="37" lengthAdjust="spacingAndGlyphs">（三）仓单、提单</text></g>
<g id="n440d" class="r"><rect x="182" y="494" width="70" height="8" rx="1.5"/><text x="184.5" y="498" textLength="65" lengthAdjust="spacingAndGlyphs">（四）可以转让的基金份额、股权</text></g>
<g id="n440e" class="r"><rect x="172" y="504" width="80" height="8" rx="1.5"/><text x="174.5" y="508" textLength="75" lengthAdjust="spacingAndGlyphs">（五）可转让的知识产权中的财产权</text></g>
<g id="n440f" class="r"><rect x="188" y="514" width="64" height="8" rx="1.5"/><text x="190.5" y="518" textLength="59" lengthAdjust="spacingAndGlyphs">（六）现有/将有的应收账款</text></g>
<g id="n440g" class="r"><rect x="222" y="524" width="30" height="8" rx="1.5"/><text x="224.5" y="528" textLength="25" lengthAdjust="spacingAndGlyphs">（七）其他</text></g>
<g id="n441" class="r"><rect x="121" y="533" width="199" height="8" rx="1.5"/><text x="123.5" y="537" textLength="194" lengthAdjust="spacingAndGlyphs">第441条 有价证券质权：自权利凭证交付时设立；无权利凭证→自办理出质登记时设立（另有规定除外）</text></g>
<g id="n443" class="r"><rect x="237" y="543" width="83" height="8" rx="1.5"/><text x="239.5" y="547" textLength="78" lengthAdjust="spacingAndGlyphs">第443条 基金份额、股权出质的质权</text></g>
<g id="n444" class="r"><rect x="227" y="553" width="93" height="8" rx="1.5"/><text x="229.5" y="557" textLength="88" lengthAdjust="spacingAndGlyphs">第444条 知识产权中的财产权出质的质权</text></g>
<g id="n445" class="r"><rect x="252" y="563" width="68" height="8" rx="1.5"/><text x="254.5" y="567" textLength="63" lengthAdjust="spacingAndGlyphs">第445条 应收账款出质的质权</text></g>
<g id="note445" class="nt"><rect x="82" y="548" width="132" height="18" rx="1.5"/><text x="85" y="554" textLength="126" lengthAdjust="spacingAndGlyphs" style="font-style:normal">出质登记时设立，不得转让/知识产权不得许可他人使用（协商</text><text x="85" y="560.5" style="font-style:normal">同意除外）；转让/许可所得价款→提前清偿/提存</text></g>

<g id="s17a" class="d"><rect x="328" y="832" width="47" height="8" rx="1.5"/><text x="331" y="836">第一节 一般抵押权</text></g>
<g id="s17b" class="d"><rect x="324" y="1089" width="51" height="8" rx="1.5"/><text x="327" y="1093">第二节 最高额抵押权</text></g>
<g id="n395" class="g"><rect x="266" y="619" width="54" height="8" rx="1.5"/><text x="268.5" y="623" textLength="49" lengthAdjust="spacingAndGlyphs">第395条 可抵押的财产</text></g>
<g id="n395a" class="r"><rect x="187" y="594" width="68" height="8" rx="1.5"/><text x="189.5" y="598" textLength="63" lengthAdjust="spacingAndGlyphs">（一）建筑物和其他土地附着物</text></g>
<g id="n395b" class="r"><rect x="203" y="604" width="52" height="8" rx="1.5"/><text x="205.5" y="608" textLength="47" lengthAdjust="spacingAndGlyphs">（二）建设用地使用权</text></g>
<g id="n395c" class="g"><rect x="215" y="614" width="40" height="8" rx="1.5"/><text x="217.5" y="618" textLength="35" lengthAdjust="spacingAndGlyphs">（三）海域使用权</text></g>
<g id="n395d" class="g"><rect x="168" y="624" width="87" height="8" rx="1.5"/><text x="170.5" y="628" textLength="82" lengthAdjust="spacingAndGlyphs">（四）生产设备、原材料、半成品、产品</text></g>
<g id="n395e" class="r"><rect x="168" y="634" width="87" height="8" rx="1.5"/><text x="170.5" y="638" textLength="82" lengthAdjust="spacingAndGlyphs">（五）正在建造的建筑物、船舶、航空器</text></g>
<g id="n395f" class="g"><rect x="209" y="644" width="46" height="8" rx="1.5"/><text x="211.5" y="648" textLength="41" lengthAdjust="spacingAndGlyphs">（六）交通运输工具</text></g>
<g id="n396" class="r"><rect x="157" y="654" width="163" height="8" rx="1.5"/><text x="159.5" y="658" textLength="158" lengthAdjust="spacingAndGlyphs">第396条 动产浮动抵押：（现有的+将有的）生产设备/原材料/半成品/产品</text></g>
<g id="n397" class="g"><rect x="266" y="669" width="54" height="8" rx="1.5"/><text x="268.5" y="673" textLength="49" lengthAdjust="spacingAndGlyphs">第397条 房地一体抵押</text></g>
<g id="n397a" class="r"><rect x="172" y="664" width="85" height="8" rx="1.5"/><text x="174.5" y="668" textLength="80" lengthAdjust="spacingAndGlyphs">第1款 建筑物与建设用地使用权一并抵押</text></g>
<g id="n397b" class="r"><rect x="181" y="674" width="76" height="8" rx="1.5"/><text x="183.5" y="678" textLength="71" lengthAdjust="spacingAndGlyphs">第2款 未抵押的视为一并抵押</text></g>
<g id="n399" class="g"><rect x="280" y="704" width="40" height="17" rx="1.5"/><text x="282.5" y="709.5">第399条 不得抵</text><text x="282.5" y="715.5">押的财产</text></g>
<g id="n399a" class="r"><rect x="229" y="684" width="44" height="8" rx="1.5"/><text x="231.5" y="688" textLength="39" lengthAdjust="spacingAndGlyphs">（一）土地所有权</text></g>
<g id="n399b" class="g"><rect x="105" y="694" width="168" height="8" rx="1.5"/><text x="107.5" y="698" textLength="163" lengthAdjust="spacingAndGlyphs">（二）宅基地、自留地、自留山等集体所有土地的使用权（依法可以抵押的除外）</text></g>
<g id="n399c" class="g"><rect x="143" y="704" width="130" height="8" rx="1.5"/><text x="145.5" y="708" textLength="125" lengthAdjust="spacingAndGlyphs">（三）公益非营利法人的教育设施/医疗卫生设施等公益设施</text></g>
<g id="n399d" class="r"><rect x="181" y="714" width="92" height="8" rx="1.5"/><text x="183.5" y="718" textLength="87" lengthAdjust="spacingAndGlyphs">（四）所有权、使用权不明/有争议的财产</text></g>
<g id="n399e" class="g"><rect x="202" y="724" width="71" height="8" rx="1.5"/><text x="204.5" y="728" textLength="66" lengthAdjust="spacingAndGlyphs">（五）被查封/扣押/监管的财产</text></g>
<g id="n399f" class="g"><rect x="242" y="733" width="31" height="8" rx="1.5"/><text x="244.5" y="737" textLength="26" lengthAdjust="spacingAndGlyphs">（六）其他</text></g>
<g id="n400" class="r"><rect x="262" y="743" width="58" height="8" rx="1.5"/><text x="264.5" y="747" textLength="53" lengthAdjust="spacingAndGlyphs">第400条 抵押合同书面形式</text></g>
<g id="n401" class="r"><rect x="149" y="753" width="171" height="8" rx="1.5"/><text x="151.5" y="757" textLength="166" lengthAdjust="spacingAndGlyphs">第401条 流押：约定不履行债务时抵押财产归债权人所有→只能就抵押财产优先受偿</text></g>
<g id="n402" class="r"><rect x="205" y="763" width="115" height="8" rx="1.5"/><text x="207.5" y="767" textLength="110" lengthAdjust="spacingAndGlyphs">第402条 不动产抵押应当登记，抵押权自登记时设立</text></g>
<g id="n403" class="r"><rect x="168" y="773" width="152" height="8" rx="1.5"/><text x="170.5" y="777" textLength="147" lengthAdjust="spacingAndGlyphs">第403条 动产抵押：自合同生效时设立；未登记，不得对抗善意第三人</text></g>
<g id="n404" class="r"><rect x="158" y="782" width="162" height="8" rx="1.5"/><text x="160.5" y="786" textLength="157" lengthAdjust="spacingAndGlyphs">第404条 动产抵押不得对抗正常经营活动中已支付合理价款并取得财产的买受人</text></g>
<g id="n405" class="r"><rect x="159" y="792" width="161" height="8" rx="1.5"/><text x="161.5" y="796" textLength="156" lengthAdjust="spacingAndGlyphs">第405条 抵押权与租赁：抵押权设立前→已出租+转移占有→原租赁关系不受影响</text></g>
<g id="n406" class="r"><rect x="271" y="804" width="49" height="14" rx="1.5"/><text x="273.5" y="808">第406条 抵押财产的</text><text x="273.5" y="814">处分</text></g>
<g id="n406a" class="r"><rect x="138" y="801" width="124" height="8" rx="1.5"/><text x="140.5" y="805" textLength="119" lengthAdjust="spacingAndGlyphs">第1款 抵押财产可转让（另约定除外），抵押权不受影响</text></g>
<g id="n406b" class="r"><rect x="52" y="812" width="210" height="14" rx="1.5"/><text x="54.5" y="816" textLength="205" lengthAdjust="spacingAndGlyphs">第2款 及时通知：抵押权人能证明可能损害抵押权→可请求将转让价款提前清偿/提存；超过部分归抵押人，不足</text><text x="54.5" y="822">部分由债务人清偿</text></g>
<g id="n407" class="g"><rect x="143" y="828" width="177" height="8" rx="1.5"/><text x="145.5" y="832" textLength="172" lengthAdjust="spacingAndGlyphs">第407条 抵押权从属性：不得单独转让/作为其他债权的担保（另有规定/约定的除外）</text></g>
<g id="n408" class="r"><rect x="98" y="838" width="222" height="14" rx="1.5"/><text x="100.5" y="842" textLength="217" lengthAdjust="spacingAndGlyphs">第408条 抵押权的保护：行为足以使抵押财产价值减少→可请求停止；减少→可请求恢复价值/提供担保；不恢复</text><text x="100.5" y="848">+不提供→可请求提前清偿</text></g>
<g id="n409" class="r"><rect x="290" y="853" width="30" height="21" rx="1.5"/><text x="292.5" y="857.5">第409条 抵</text><text x="292.5" y="863.5">押权及其顺</text><text x="292.5" y="869.5">位的处分</text></g>
<g id="n409a" class="r"><rect x="76" y="855" width="206" height="8" rx="1.5"/><text x="78.5" y="859" textLength="201" lengthAdjust="spacingAndGlyphs">第1款 抵押权人可放弃/协议变更抵押权顺位、抵押权；变更未经其他抵押权人书面同意→不得对其产生不利影响</text></g>
<g id="n409b" class="r"><rect x="65" y="865" width="217" height="8" rx="1.5"/><text x="67.5" y="869" textLength="212" lengthAdjust="spacingAndGlyphs">第2款 债务人以自己财产设立抵押+抵押权人放弃/变更→其他担保人在丧失优先受偿权益范围内免责（承诺仍担保的除外）</text></g>
<g id="n410" class="r"><rect x="287" y="882" width="33" height="15" rx="1.5"/><text x="289.5" y="886.5">第410条 抵押</text><text x="289.5" y="892.5">权的实现</text></g>
<g id="n410a" class="r"><rect x="115" y="877" width="164" height="8" rx="1.5"/><text x="117.5" y="881" textLength="159" lengthAdjust="spacingAndGlyphs">第1款 可协议折价/拍卖/变卖；协议损害其他债权人利益→可请求撤销协议</text></g>
<g id="n410b" class="r"><rect x="159" y="887" width="120" height="8" rx="1.5"/><text x="161.5" y="891" textLength="115" lengthAdjust="spacingAndGlyphs">第2款 未就实现方式达成协议→可请求法院拍卖/变卖</text></g>
<g id="n410c" class="g"><rect x="198" y="897" width="81" height="8" rx="1.5"/><text x="200.5" y="901" textLength="76" lengthAdjust="spacingAndGlyphs">第3款 折价/变卖应当参照市场价格</text></g>
<g id="n411" class="g"><rect x="252" y="921" width="68" height="8" rx="1.5"/><text x="254.5" y="925" textLength="63" lengthAdjust="spacingAndGlyphs">第411条 浮动抵押财产的确定</text></g>
<g id="n411a" class="r"><rect x="178" y="906" width="65" height="7.5" rx="1.5"/><text x="180.5" y="909.75" textLength="60" lengthAdjust="spacingAndGlyphs">（一）债权届满+债权未实现</text></g>
<g id="n411b" class="r"><rect x="176" y="916" width="67" height="7.5" rx="1.5"/><text x="178.5" y="919.75" textLength="62" lengthAdjust="spacingAndGlyphs">（二）抵押人被宣告破产/解散</text></g>
<g id="n411c" class="r"><rect x="205" y="926" width="38" height="7.5" rx="1.5"/><text x="207.5" y="929.75" textLength="33" lengthAdjust="spacingAndGlyphs">（三）约定情形</text></g>
<g id="n411d" class="g"><rect x="165" y="936" width="78" height="7.5" rx="1.5"/><text x="167.5" y="939.75" textLength="73" lengthAdjust="spacingAndGlyphs">（四）严重影响债权实现的其他情形</text></g>
<g id="n412" class="g"><rect x="282" y="947" width="38" height="16" rx="1.5"/><text x="284.5" y="952">第412条 抵押财</text><text x="284.5" y="958">产孳息</text></g>
<g id="n412a" class="g"><rect x="62" y="946" width="211" height="8" rx="1.5"/><text x="64.5" y="950" textLength="206" lengthAdjust="spacingAndGlyphs">第1款 抵押财产被法院依法扣押→扣押之日起抵押权人可收取（未通知应当清偿法定孳息义务人的除外）</text></g>
<g id="n412b" class="g"><rect x="207" y="956" width="66" height="8" rx="1.5"/><text x="209.5" y="960" textLength="61" lengthAdjust="spacingAndGlyphs">第2款 孳息应当先充抵收取费用</text></g>
<g id="n413" class="g"><rect x="126" y="966" width="194" height="8" rx="1.5"/><text x="128.5" y="970" textLength="189" lengthAdjust="spacingAndGlyphs">第413条 抵押财产折价/拍卖/变卖后，价款超过债权数额的归抵押人，不足部分由债务人清偿</text></g>
<g id="n414" class="r"><rect x="272" y="994" width="48" height="9" rx="1.5"/><text x="274.5" y="998.5">第414条 数个抵押权</text></g>
<g id="n414k1" class="r"><rect x="243" y="981" width="20" height="13" rx="1.5"/><text x="245.5" y="987.5">第1款</text></g>
<g id="n414a" class="r"><rect x="164" y="974" width="71" height="8" rx="1.5"/><text x="166.5" y="978" textLength="66" lengthAdjust="spacingAndGlyphs">（一）已登记→按登记的时间先后</text></g>
<g id="n414b" class="r"><rect x="168" y="984" width="67" height="8" rx="1.5"/><text x="170.5" y="988" textLength="62" lengthAdjust="spacingAndGlyphs">（二）已登记的先于未登记的</text></g>
<g id="n414c" class="r"><rect x="173" y="995" width="62" height="8" rx="1.5"/><text x="175.5" y="999" textLength="57" lengthAdjust="spacingAndGlyphs">（三）未登记→按债权比例</text></g>
<g id="n414k2" class="r"><rect x="143" y="1004" width="120" height="8" rx="1.5"/><text x="145.5" y="1008" textLength="115" lengthAdjust="spacingAndGlyphs">第2款 其他可登记的担保物权，清偿顺序参照适用前款规定</text></g>
<g id="n415" class="r"><rect x="188" y="1014" width="132" height="8" rx="1.5"/><text x="190.5" y="1018" textLength="127" lengthAdjust="spacingAndGlyphs">第415条 抵押+质押：按登记/交付的时间先后确定清偿顺序</text></g>
<g id="n416" class="r"><rect x="40" y="1024" width="280" height="8" rx="1.5"/><text x="42.5" y="1028" textLength="275" lengthAdjust="spacingAndGlyphs">第416条 动产抵押担保的主债权是抵押物的价款：标的物交付后十日内办理抵押登记→优先于抵押物买受人的其他担保物权人受偿（留置权人除外）</text></g>
<g id="n417" class="g"><rect x="28" y="1034" width="292" height="8" rx="1.5"/><text x="30.5" y="1038" textLength="287" lengthAdjust="spacingAndGlyphs">第417条 建设用地使用权抵押后新增建筑物不属于抵押财产；实现时→与建设用地使用权一并处分；新增建筑物所得价款→抵押权人无权优先受偿</text></g>
<g id="n419" class="r"><rect x="233" y="1044" width="87" height="8" rx="1.5"/><text x="235.5" y="1048" textLength="82" lengthAdjust="spacingAndGlyphs">第419条 主债权诉讼时效期间内行使抵押权</text></g>

<g id="n420" class="r"><rect x="280" y="1056" width="37" height="14" rx="1.5"/><text x="282.5" y="1060">第420条 最高</text><text x="282.5" y="1066">额抵押权</text></g>
<g id="n420a" class="r"><rect x="105" y="1054" width="167" height="8" rx="1.5"/><text x="107.5" y="1058" textLength="162" lengthAdjust="spacingAndGlyphs">第1款 对一定期间内连续发生的债权→抵押权人在最高债权额内就担保财产优先受偿</text></g>
<g id="n420b" class="r"><rect x="125" y="1064" width="147" height="8" rx="1.5"/><text x="127.5" y="1068" textLength="142" lengthAdjust="spacingAndGlyphs">第2款 设立前已经存在的债权→经当事人同意→可转入最高额抵押担保的债权范围</text></g>
<g id="n421" class="r"><rect x="162" y="1074" width="155" height="8" rx="1.5"/><text x="164.5" y="1078" textLength="150" lengthAdjust="spacingAndGlyphs">第421条 债权确定前→部分债权转让→最高额抵押权不得转让（另约定除外）</text></g>
<g id="n422" class="r"><rect x="153" y="1084" width="164" height="8" rx="1.5"/><text x="155.5" y="1088" textLength="159" lengthAdjust="spacingAndGlyphs">第422条 债权确定前，可协议变更；变更不得对其他抵押权人产生不利影响</text></g>
<g id="n423" class="g"><rect x="262" y="1115" width="55" height="15" rx="1.5"/><text x="264.5" y="1119.5">第423条 最高额抵押权</text><text x="264.5" y="1125.5">担保债权确定</text></g>
<g id="n423a" class="r"><rect x="205" y="1094" width="48" height="8" rx="1.5"/><text x="207.5" y="1098" textLength="43" lengthAdjust="spacingAndGlyphs">（一）约定期间届满</text></g>
<g id="n423b" class="r"><rect x="120" y="1104" width="133" height="8" rx="1.5"/><text x="122.5" y="1108" textLength="128" lengthAdjust="spacingAndGlyphs">（二）没有约定期间/约定不明→自设立之日起满二年后请求确定</text></g>
<g id="n423c" class="r"><rect x="198" y="1114" width="55" height="8" rx="1.5"/><text x="200.5" y="1118" textLength="50" lengthAdjust="spacingAndGlyphs">（三）新的债权不可能发生</text></g>
<g id="n423d" class="g"><rect x="139" y="1123" width="114" height="9" rx="1.5"/><text x="141.5" y="1127.5" textLength="109" lengthAdjust="spacingAndGlyphs">（四）抵押权人知道/应当知道抵押财产被查封、扣押</text></g>
<g id="n423e" class="g"><rect x="168" y="1133" width="85" height="9" rx="1.5"/><text x="170.5" y="1137.5" textLength="80" lengthAdjust="spacingAndGlyphs">（五）债务人、抵押人被宣告破产/解散</text></g>
<g id="n423f" class="g"><rect x="223" y="1143" width="30" height="8" rx="1.5"/><text x="225.5" y="1147" textLength="25" lengthAdjust="spacingAndGlyphs">（六）其他</text></g>
</svg>
